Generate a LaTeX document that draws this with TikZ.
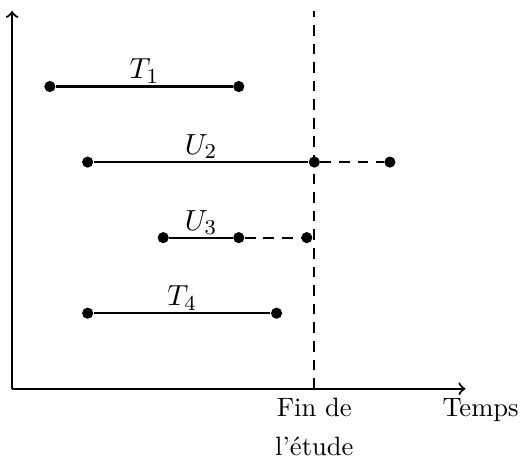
\documentclass[tikz,border=0pt]{standalone}
\begin{document}
\begin{tikzpicture}[
  x=0.5cm, y=0.5cm,
  dot/.style={circle, fill, inner sep=0pt, minimum size=4.2pt},
  seg/.style={thick},
  future/.style={thick, dash pattern=on 4pt off 3pt},
  axis/.style={->, thick},
  lab/.style={midway, above, inner sep=0.8pt, font=\fontsize{11}{13}\selectfont}
]
\useasboundingbox (-0.32,-1.98) rectangle (13.55,10.29);
\coordinate (o) at (0,0);
\coordinate (ytop) at (0,10);
\coordinate (xend) at (12,0);
\coordinate (fbot) at (8,0);
\coordinate (ftop) at (8,10);
\draw[axis] (o) -- (ytop);
\draw[axis] (o) -- (xend);
\draw[future] (fbot) -- (ftop);
\node[below, align=center] (fin) at (fbot) {Fin de\\[2.6pt]l'\'etude};
\node[below] (temps) at (12.4,0) {Temps};
\node[dot] (t1a) at (1,8) {};
\node[dot] (t1b) at (6,8) {};
\node[dot] (u2a) at (2,6) {};
\node[dot] (u2b) at (8,6) {};
\node[dot] (u2c) at (10,6) {};
\node[dot] (u3a) at (4,4) {};
\node[dot] (u3b) at (6,4) {};
\node[dot] (u3c) at (7.8,4) {};
\node[dot] (t4a) at (2,2) {};
\node[dot] (t4b) at (7,2) {};
\draw[seg] (t1a) -- (t1b) node[lab] {$T_1$};
\draw[seg] (u2a) -- (u2b) node[lab] {$U_2$};
\draw[future] (u2b) -- (u2c);
\draw[seg] (u3a) -- (u3b) node[lab] {$U_3$};
\draw[future] (u3b) -- (u3c);
\draw[seg] (t4a) -- (t4b) node[lab] {$T_4$};
\end{tikzpicture}
\end{document}
